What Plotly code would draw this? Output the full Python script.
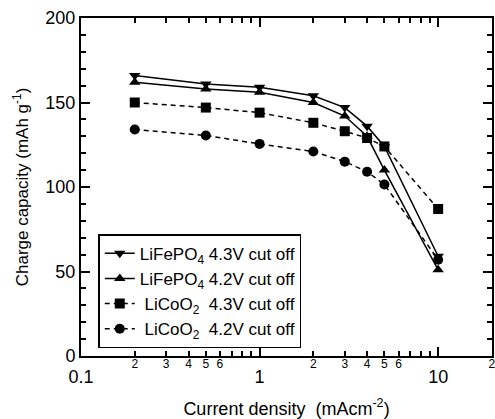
import numpy as np
import plotly.graph_objects as go

current = [0.2, 0.5, 1, 2, 3, 4, 5, 10]
lfp_43 = [166, 161, 159, 154, 147, 136, 124, 59]
lfp_42 = [162, 158, 156, 150, 142, 130, 110, 51]
lco_43 = [150, 147, 144, 138, 133, 129, 124, 87]
lco_42 = [134, 130.5, 125.5, 121, 115, 109, 101.5, 57]

series = [
    ("LiFePO<sub>4</sub> 4.3V cut off", lfp_43, "triangle-down", "solid"),
    ("LiFePO<sub>4</sub> 4.2V cut off", lfp_42, "triangle-up", "solid"),
    (" LiCoO<sub>2</sub>  4.3V cut off", lco_43, "square", "5px,4px"),
    (" LiCoO<sub>2</sub>  4.2V cut off", lco_42, "circle", "5px,4px"),
]

minor_vals = [0.2, 0.3, 0.4, 0.5, 0.6, 0.7, 0.8, 0.9,
              2, 3, 4, 5, 6, 7, 8, 9, 20]
minor_text = ["2", "3", "4", "5", "6", "", "", "",
              "2", "3", "4", "5", "6", "", "", "", "2"]
major_vals = [0.1, 1, 10]
major_text = ["0.1", "1", "10"]

fig = go.Figure()
for name, ys, sym, dash in series:
    fig.add_trace(go.Scatter(
        x=current, y=ys, name=name, mode="lines+markers",
        line=dict(color="black", width=1.5, dash=dash),
        marker=dict(symbol=sym, size=10, color="black"),
    ))
# invisible trace for overlay axis
fig.add_trace(go.Scatter(x=[0.1], y=[0], xaxis="x2", showlegend=False,
                         mode="markers", marker=dict(opacity=0), hoverinfo="skip"))

font = "Liberation Sans, Arial, sans-serif"
xr = [-1.0, np.log10(20) + 0.0005]
fig.update_layout(
    width=495, height=419,
    margin=dict(l=81, r=3, t=18, b=63),
    paper_bgcolor="white", plot_bgcolor="white",
    font=dict(family=font, color="black", size=17),
    xaxis=dict(
        type="log", range=xr, automargin=False,
        tickmode="array", tickvals=minor_vals, ticktext=minor_text,
        ticks="inside", ticklen=5, tickwidth=1.5, tickcolor="black",
        tickfont=dict(size=12), ticklabelstandoff=-4, ticklabeloverflow="allow",
        showline=True, linecolor="black", linewidth=2, mirror="ticks",
        showgrid=False, zeroline=False,
        title=dict(text="Current density  (mAcm<sup>-2</sup>)", font=dict(size=18), standoff=32),
    ),
    xaxis2=dict(
        type="log", range=xr, overlaying="x", side="bottom", automargin=False,
        tickmode="array", tickvals=major_vals, ticktext=major_text,
        ticks="inside", ticklen=9, tickwidth=1.5, tickcolor="black",
        tickfont=dict(size=18), ticklabelstandoff=8,
        showline=False, mirror="ticks", showgrid=False, zeroline=False,
    ),
    yaxis=dict(
        range=[0, 200], tickmode="array", tickvals=[0, 50, 100, 150, 200],
        automargin=False,
        ticks="inside", ticklen=9, tickwidth=1.5, tickcolor="black",
        tickfont=dict(size=18),
        minor=dict(dtick=10, ticks="inside", ticklen=5, tickwidth=1.5, tickcolor="black"),
        showline=True, linecolor="black", linewidth=2, mirror="ticks",
        showgrid=False, zeroline=False,
        title=dict(text="Charge capacity (mAh g<sup>-1</sup>)", font=dict(size=17), standoff=12),
    ),
    legend=dict(
        x=0.042, y=0.36, xanchor="left", yanchor="top",
        bordercolor="black", borderwidth=1.5, bgcolor="white",
        font=dict(size=17), tracegroupgap=0, itemwidth=30,
    ),
    showlegend=True,
)

fig.write_html(
    "out.html",
    config={"displayModeBar": False},
    post_script="document.body.style.margin='0';document.body.style.overflow='hidden';",
)
